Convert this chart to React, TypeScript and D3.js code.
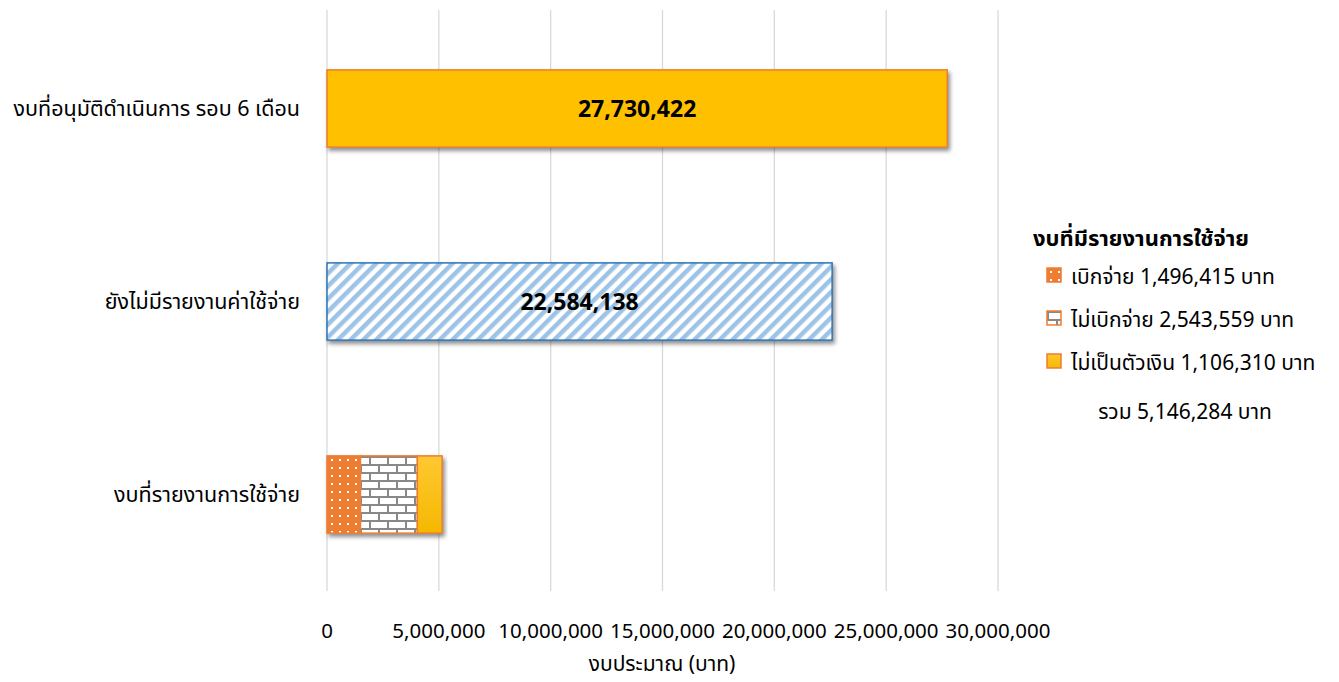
import React from "react";
import * as d3 from "d3";

const categories = ["งบที่อนุมัติดำเนินการ รอบ 6 เดือน", "ยังไม่มีรายงานค่าใช้จ่าย", "งบที่รายงานการใช้จ่าย"];
const approvedValue = 27730422;
const unreportedValue = 22584138;
const reportedParts = [1496415, 2543559, 1106310];
const reportedNames = ["เบิกจ่าย", "ไม่เบิกจ่าย", "ไม่เป็นตัวเงิน"];
const xTicks = [0, 5000000, 10000000, 15000000, 20000000, 25000000, 30000000];
const legendTitle = "งบที่มีรายงานการใช้จ่าย";
const axisTitle = "งบประมาณ (บาท)";

const W = 1339;
const H = 682;
const FONT = "Tahoma, 'Noto Sans Thai', 'Noto Sans', 'DejaVu Sans', sans-serif";

export default function App() {
  const x = d3.scaleLinear().domain([0, 30000000]).range([327, 998]);
  const y = d3.scaleBand().domain(categories).range([12, 591]).paddingInner(0.6).paddingOuter(0.3);
  const fmt = d3.format(",");
  const bw = y.bandwidth();
  const total = d3.sum(reportedParts);
  const stackStarts = reportedParts.map((_, i) => d3.sum(reportedParts.slice(0, i)));
  const partFills = ["url(#dots)", "url(#bricks)", "url(#gold)"];

  return (
    <svg width={W} height={H} style={{ position: "absolute", left: 0, top: 0, background: "#fff" }} fontFamily={FONT}>
      <defs>
        <pattern id="stripes" width="9" height="9" patternUnits="userSpaceOnUse" patternTransform="rotate(45)">
          <rect width="9" height="9" fill="#fff" />
          <rect width="4.5" height="9" fill="#9DC3E6" />
        </pattern>
        <pattern id="dots" width="8" height="8" patternUnits="userSpaceOnUse">
          <rect width="8" height="8" fill="#ED7D31" />
          <rect x="3" y="3" width="2" height="2" fill="#fff" />
        </pattern>
        <pattern id="bricks" width="18" height="16" patternUnits="userSpaceOnUse">
          <rect width="18" height="16" fill="#fff" />
          <rect x="0" y="0" width="18" height="2" fill="#888" />
          <rect x="0" y="8" width="18" height="2" fill="#888" />
          <rect x="0" y="0" width="2" height="8" fill="#888" />
          <rect x="9" y="8" width="2" height="8" fill="#888" />
        </pattern>
        <linearGradient id="gold" x1="0" y1="0" x2="0" y2="1">
          <stop offset="0" stopColor="#FFC832" />
          <stop offset="1" stopColor="#F5B800" />
        </linearGradient>
        <filter id="shadow" x="-5%" y="-20%" width="110%" height="150%">
          <feDropShadow dx="2" dy="3" stdDeviation="2" floodColor="#000" floodOpacity="0.45" />
        </filter>
      </defs>

      {xTicks.map((t) => (
        <line key={t} x1={x(t)} x2={x(t)} y1={10} y2={591} stroke="#D9D9D9" strokeWidth={1.3} />
      ))}

      {/* approved bar */}
      <rect x={x(0)} y={y(categories[0])!} width={x(approvedValue) - x(0)} height={bw}
        fill="#FFC000" stroke="#ED7D31" strokeWidth={1.5} filter="url(#shadow)" />
      <text x={(x(0) + x(approvedValue)) / 2} y={y(categories[0])! + bw / 2} dy="0.36em" textAnchor="middle"
        fontSize={23} fontWeight="bold" fill="#000">{fmt(approvedValue)}</text>

      {/* unreported bar */}
      <rect x={x(0)} y={y(categories[1])!} width={x(unreportedValue) - x(0)} height={bw}
        fill="url(#stripes)" stroke="#2E75B6" strokeWidth={1.5} filter="url(#shadow)" />
      <text x={(x(0) + x(unreportedValue)) / 2} y={y(categories[1])! + bw / 2} dy="0.36em" textAnchor="middle"
        fontSize={23} fontWeight="bold" fill="#000">{fmt(unreportedValue)}</text>

      {/* reported stacked bar */}
      <g filter="url(#shadow)">
        {reportedParts.map((v, i) => (
          <rect key={i} x={x(stackStarts[i])} y={y(categories[2])!} width={x(stackStarts[i] + v) - x(stackStarts[i])}
            height={bw} fill={partFills[i]} stroke="#ED7D31" strokeWidth={1.5} />
        ))}
      </g>

      {/* category labels */}
      {categories.map((c) => (
        <text key={c} x={300} y={y(c)! + bw / 2} dy="0.36em" textAnchor="end" fontSize={21.5} fill="#000">{c}</text>
      ))}

      {/* tick labels */}
      {xTicks.map((t) => (
        <text key={t} x={x(t)} y={638} textAnchor="middle" fontSize={20.5} fill="#000">{fmt(t)}</text>
      ))}
      <text x={662} y={671} textAnchor="middle" fontSize={21} fill="#000">{axisTitle}</text>

      {/* legend */}
      <text x={1033} y={246} fontSize={22} fontWeight="bold" fill="#000">{legendTitle}</text>
      {reportedParts.map((v, i) => (
        <g key={i} transform={`translate(1047, ${268 + i * 43})`}>
          <rect x={0} y={0} width={14} height={14} fill={partFills[i]} stroke="#ED7D31" strokeWidth={1.5} />
          <text x={24} y={8} dy="0.36em" fontSize={21} fill="#000">{`${reportedNames[i]} ${fmt(v)} บาท`}</text>
        </g>
      ))}
      <text x={1185} y={419} textAnchor="middle" fontSize={21} fill="#000">{`รวม ${fmt(total)} บาท`}</text>
    </svg>
  );
}
